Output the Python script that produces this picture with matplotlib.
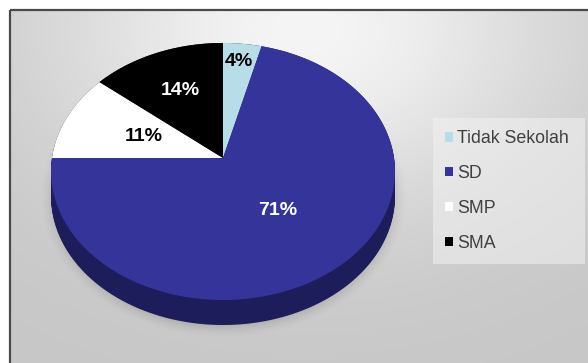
import numpy as np
import matplotlib.pyplot as plt
import matplotlib.transforms as mtransforms
from matplotlib.path import Path
from matplotlib.patches import Circle, Rectangle

# --- data ---
categories = ["Tidak Sekolah", "SD", "SMP", "SMA"]
shares = [4, 71, 11, 14]
slice_colors = ["#b7dee8", "#34349b", "#ffffff", "#000000"]
label_colors = ["black", "white", "black", "white"]
label_dist = [0.83, 0.5, 0.5, 0.62]

# --- layout (pixels) ---
W, H = 588, 363
CX, CY = 223, 158          # pie apex on screen
RX, RY, TILT = 171, 127.1, 0.105
DEPTH = 25
SIDE_COLOR = "#1d1d5b"


class TiltTransform(mtransforms.Transform):
    """Maps the unit pie plane onto a tilted disc seen in perspective."""
    input_dims = 2
    output_dims = 2
    is_separable = False
    has_inverse = False

    def transform_non_affine(self, values):
        values = np.asarray(values, dtype=float)
        x, y = values[:, 0], values[:, 1]
        w = 1 + TILT * y
        return np.column_stack([CX + RX * x / w, CY - RY * y / w])

    def transform_path_non_affine(self, path):
        t = np.linspace(0, 1, 40)
        pts = [seg(t) for seg, code in path.iter_bezier()]
        pts = np.vstack(pts)
        return Path(self.transform_non_affine(pts), closed=True)


fig = plt.figure(figsize=(W / 100, H / 100), dpi=100)
ax = fig.add_axes([0, 0, 1, 1])

# background with soft radial light
yy, xx = np.mgrid[0:H, 0:W].astype(float)
glow = np.exp(-(((xx - 300) / 260) ** 2 + ((yy - 20) / 190) ** 2))
bg = 0.78 + 0.18 * glow
ax.imshow(np.dstack([bg, bg, bg]), extent=(10, W, H, 10), origin="upper",
          aspect="auto", zorder=0, interpolation="bilinear")
ax.add_patch(Rectangle((10, 10), 700, 500, fill=False, edgecolor="#4a4a4a",
                       lw=1.6, zorder=0.5))

# blurred shadow under the disc
r = np.sqrt(((xx - 223) / 184) ** 2 + ((yy - 196) / 141) ** 2)
shade = np.clip((1 - r) / 0.12, 0, 1) ** 1.5 * 0.45
shadow = np.zeros((H, W, 4))
shadow[..., :3] = 0.45
shadow[..., 3] = shade
ax.imshow(shadow, extent=(0, W, H, 0), origin="upper", aspect="auto",
          zorder=1, interpolation="bilinear")

tilt = TiltTransform()

# side wall of the disc
for dz in np.arange(DEPTH, -0.5, -1.0):
    disc = Circle((0, 0), 1, facecolor=SIDE_COLOR, edgecolor="none", zorder=2)
    disc.set_transform(tilt + mtransforms.Affine2D().translate(0, dz) + ax.transData)
    ax.add_patch(disc)

wedges, texts, autotexts = ax.pie(
    shares, colors=slice_colors, startangle=90, counterclock=False,
    autopct="%1.0f%%", wedgeprops=dict(linewidth=0),
    textprops=dict(fontsize=14, fontweight="bold", family="Liberation Sans"),
)

leg = ax.legend(
    wedges, categories, loc="upper left", mode="expand",
    bbox_to_anchor=(433 / W, 1 - 258 / H, 152 / W, 140 / H),
    prop=dict(family="Liberation Sans", size=12.8),
    frameon=True, fancybox=False, facecolor="#f2f2f2", framealpha=0.55,
    edgecolor="none", borderpad=0.7, labelspacing=1.0,
    handlelength=0.42, handleheight=0.42, handletextpad=0.25, borderaxespad=0,
)
for txt in leg.get_texts():
    txt.set_color("#404040")

for w, t, d, c in zip(wedges, autotexts, label_dist, label_colors):
    w.set_transform(tilt + ax.transData)
    w.set_zorder(3)
    mid = np.deg2rad((w.theta1 + w.theta2) / 2)
    t.set_position((d * np.cos(mid), d * np.sin(mid)))
    t.set_transform(tilt + ax.transData)
    t.set_color(c)
    t.set_zorder(4)

ax.set_aspect("auto")
ax.set_xlim(0, W)
ax.set_ylim(H, 0)
ax.axis("off")

fig.savefig("out.png", dpi=100, facecolor="white")
